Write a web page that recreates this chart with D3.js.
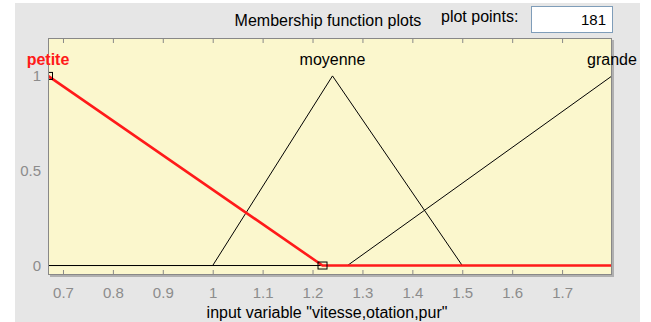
<!DOCTYPE html>
<html>
<head>
<meta charset="utf-8">
<script src="https://cdn.jsdelivr.net/npm/d3@7"></script>
<style>
  body { margin: 0; background: #fff; }
  svg text { font-family: "Liberation Sans", Arial, sans-serif; }
</style>
</head>
<body>
<div id="chart"></div>
<script>
// Data
const mfNames = ["petite", "moyenne", "grande"];
const petiteX = [0.67, 1.22, 1.8];
const petiteY = [1, 0, 0];
const moyenneX = [0.67, 1.0, 1.24, 1.5, 1.8];
const moyenneY = [0, 0, 1, 0, 0];
const grandeX = [0.67, 1.27, 1.8];
const grandeY = [0, 0, 1];
const labelX = [0.67, 1.24, 1.8]; // peak of each mf
const markerX = [0.67, 1.22];
const markerY = [1, 0];
const xTicks = [0.7, 0.8, 0.9, 1, 1.1, 1.2, 1.3, 1.4, 1.5, 1.6, 1.7];
const yTicks = [0, 0.5, 1];
const plotPoints = 181;

const width = 651, height = 322;
const margin = { top: 38, right: 39, bottom: 47, left: 48 };
const iw = width - margin.left - margin.right;
const ih = height - margin.top - margin.bottom;

const svg = d3.select("#chart").append("svg")
  .attr("width", width)
  .attr("height", height);

// panel background
svg.append("rect")
  .attr("x", 15).attr("y", 3)
  .attr("width", 625).attr("height", 319)
  .attr("fill", "#e6e6e6");

// header
svg.append("text")
  .attr("x", 328).attr("y", 26)
  .attr("text-anchor", "middle")
  .attr("font-size", 16)
  .attr("fill", "#000")
  .text("Membership function plots");
svg.append("text")
  .attr("x", 441).attr("y", 22)
  .attr("font-size", 16)
  .attr("fill", "#000")
  .text("plot points:");
svg.append("rect")
  .attr("x", 531.5).attr("y", 6.5)
  .attr("width", 81).attr("height", 26)
  .attr("fill", "#fff")
  .attr("stroke", "#7f9db9");
svg.append("text")
  .attr("x", 606).attr("y", 25)
  .attr("text-anchor", "end")
  .attr("font-size", 15)
  .text(plotPoints);

const x = d3.scaleLinear().domain([0.67, 1.8]).range([0, iw]);
const y = d3.scaleLinear().domain([-0.05, 1.2]).range([ih, 0]);

const g = svg.append("g")
  .attr("transform", `translate(${margin.left},${margin.top})`);

// shadow
g.append("rect")
  .attr("x", 2).attr("y", 2)
  .attr("width", iw).attr("height", ih)
  .attr("fill", "#b0b0b0");

g.append("rect")
  .attr("width", iw).attr("height", ih)
  .attr("fill", "#fbf7cd");

svg.append("defs").append("clipPath").attr("id", "clip")
  .append("rect").attr("width", iw).attr("height", ih);

// tick marks inside box, top and bottom
g.append("g")
  .attr("transform", `translate(0,${ih})`)
  .call(d3.axisBottom(x).tickValues(xTicks).tickSize(-5).tickFormat(d3.format("")).tickPadding(12))
  .call(s => s.select(".domain").remove())
  .call(s => s.selectAll("line").attr("stroke", "#888"))
  .call(s => s.selectAll("text").attr("font-size", 15).attr("fill", "#8c8c8c")
    .attr("font-family", "Liberation Sans, Arial, sans-serif"));

g.append("g")
  .call(d3.axisTop(x).tickValues(xTicks).tickSize(-5).tickFormat(""))
  .call(s => s.select(".domain").remove())
  .call(s => s.selectAll("line").attr("stroke", "#888"));

g.append("g")
  .call(d3.axisLeft(y).tickValues(yTicks).tickSize(0).tickFormat(d3.format("")).tickPadding(7))
  .call(s => s.select(".domain").remove())
  .call(s => s.selectAll("text").attr("font-size", 15).attr("fill", "#8c8c8c")
    .attr("font-family", "Liberation Sans, Arial, sans-serif"));

const line = d3.line().x(d => x(d[0])).y(d => y(d[1]));
const plots = g.append("g").attr("clip-path", "url(#clip)");

const series = [
  { name: "moyenne", pts: d3.zip(moyenneX, moyenneY), color: "#000", w: 1 },
  { name: "grande", pts: d3.zip(grandeX, grandeY), color: "#000", w: 1 },
  { name: "petite", pts: d3.zip(petiteX, petiteY), color: "#ff1a1a", w: 2.6 },
];

plots.selectAll(".mf")
  .data(series)
  .enter()
  .append("path")
  .attr("class", "mf")
  .attr("d", d => line(d.pts))
  .attr("fill", "none")
  .attr("stroke", d => d.color)
  .attr("stroke-width", d => d.w)
  .attr("stroke-linejoin", "round");

plots.selectAll(".marker")
  .data(d3.zip(markerX, markerY))
  .enter()
  .append("rect")
  .attr("class", "marker")
  .attr("x", d => x(d[0]) - 4.5)
  .attr("y", d => y(d[1]) - 3.5)
  .attr("width", 9).attr("height", 7)
  .attr("fill", "none")
  .attr("stroke", "#000")
  .attr("stroke-width", 1);

// border
g.append("rect")
  .attr("x", 0.5).attr("y", 0.5)
  .attr("width", iw - 1).attr("height", ih - 1)
  .attr("fill", "none")
  .attr("stroke", "#888");

// mf labels
g.selectAll(".mflabel")
  .data(mfNames)
  .enter()
  .append("text")
  .attr("class", "mflabel")
  .attr("x", (d, i) => x(labelX[i]))
  .attr("y", y(1.06))
  .attr("text-anchor", "middle")
  .attr("font-size", 16)
  .attr("font-weight", (d, i) => i === 0 ? "bold" : "normal")
  .attr("fill", (d, i) => i === 0 ? "#ff1a1a" : "#000")
  .text(d => d);

// x label
svg.append("text")
  .attr("x", 327).attr("y", 318)
  .attr("text-anchor", "middle")
  .attr("font-size", 16)
  .text('input variable "vitesse,otation,pur"');
</script>
</body>
</html>
